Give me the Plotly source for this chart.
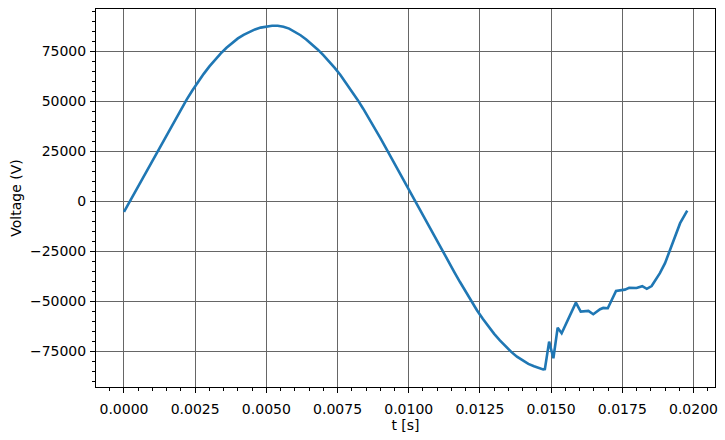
import plotly.graph_objects as go

# Time samples (s)
t_s = [0.0000, 0.0002, 0.0004, 0.0006, 0.0008, 0.0010, 0.0012, 0.0014, 0.0016, 0.0018,
       0.0020, 0.0022, 0.0024, 0.0026, 0.0028, 0.0030, 0.0032, 0.0034, 0.0036, 0.0038,
       0.0040, 0.0042, 0.0044, 0.0046, 0.0048, 0.0050, 0.0052, 0.0054, 0.0056, 0.0058,
       0.0060, 0.0062, 0.0064, 0.0066, 0.0068, 0.0070, 0.0072, 0.0074, 0.0076, 0.0078,
       0.0080, 0.0082, 0.0084, 0.0086, 0.0088, 0.0090, 0.0092, 0.0094, 0.0096, 0.0098,
       0.0100, 0.0102, 0.0104, 0.0106, 0.0108, 0.0110, 0.0112, 0.0114, 0.0116, 0.0118,
       0.0120, 0.0122, 0.0124, 0.0126, 0.0128, 0.0130, 0.0132, 0.0134, 0.0136, 0.0138,
       0.0140, 0.0142, 0.0144, 0.0146, 0.01472, 0.01478,
       0.01493, 0.01508, 0.01523, 0.01537, 0.01587, 0.01604, 0.01631, 0.01648, 0.01672,
       0.01683, 0.01699, 0.01728, 0.01742, 0.01759, 0.01774, 0.01800, 0.01820, 0.01836,
       0.01853, 0.01882, 0.01900, 0.01918, 0.01935, 0.01953, 0.01978]

# Voltage values (V)
voltage_v = [-5200, -100, 5000, 10200, 15400, 20600, 25800, 31000, 36100, 41100,
             46000, 50800, 55400, 59700, 63700, 67400, 70800, 73900, 76700, 79200,
             81400, 83200, 84700, 85900, 86800, 87400, 87700, 87700, 87200, 86300,
             84800, 83000, 80900, 78500, 75900, 73100, 70000, 66700, 63100, 59200,
             55100, 50800, 46300, 41600, 36700, 31700, 26600, 21400, 16200, 11000,
             5700, 500, -4600, -9700, -14800, -19900, -25000, -30200, -35300, -40300,
             -45200, -50000, -54500, -58700, -62600, -66200, -69500, -72500, -75200, -77600,
             -79600, -81200, -82400, -83400, -84000, -83800,
             -70100, -78400, -63100, -65900, -50600, -55100, -54750, -56400, -53900,
             -53250, -53400, -44750, -44500, -44100, -43200, -43300, -42400, -43700,
             -42300, -35900, -30900, -24300, -17300, -10900, -4600]

x_ticks = [0.0000, 0.0025, 0.0050, 0.0075, 0.0100, 0.0125, 0.0150, 0.0175, 0.0200]
x_tick_labels = ["0.0000", "0.0025", "0.0050", "0.0075", "0.0100", "0.0125", "0.0150", "0.0175", "0.0200"]
y_ticks = [-75000, -50000, -25000, 0, 25000, 50000, 75000]
y_tick_labels = ["\u221275000", "\u221250000", "\u221225000", "0", "25000", "50000", "75000"]

fig = go.Figure()
fig.add_trace(go.Scatter(x=t_s, y=voltage_v, mode="lines",
                         line=dict(color="#1f77b4", width=2.6), showlegend=False))

font = dict(family="DejaVu Sans", size=14, color="black")

fig.update_layout(
    width=725, height=440,
    margin=dict(l=96, r=10, t=9, b=53),
    paper_bgcolor="white", plot_bgcolor="white",
    font=font,
)
fig.update_xaxes(
    range=[-0.000983, 0.020755],
    tickvals=x_ticks, ticktext=x_tick_labels,
    showgrid=True, gridcolor="#666666", gridwidth=1,
    zeroline=False, automargin=False,
    showline=True, linecolor="black", linewidth=1, mirror=True,
    ticks="outside", ticklen=5, tickcolor="black", tickwidth=1,
    ticklabelstandoff=4,
    minor=dict(dtick=0.0005, tick0=0, ticks="outside", ticklen=3, tickcolor="black", showgrid=False),
    title=dict(text="t [s]", font=font, standoff=4),
)
fig.update_yaxes(
    range=[-92750, 96100],
    tickvals=y_ticks, ticktext=y_tick_labels,
    showgrid=True, gridcolor="#666666", gridwidth=1,
    zeroline=False, automargin=False,
    showline=True, linecolor="black", linewidth=1, mirror=True,
    ticks="outside", ticklen=5, tickcolor="black", tickwidth=1,
    ticklabelstandoff=1,
    minor=dict(dtick=5000, tick0=0, ticks="outside", ticklen=3, tickcolor="black", showgrid=False),
    title=dict(text="Voltage (V)", font=font, standoff=5),
)

fig.write_html("out.html",
               config={"displayModeBar": False},
               post_script="document.body.style.margin='0';document.body.style.overflow='hidden';")
